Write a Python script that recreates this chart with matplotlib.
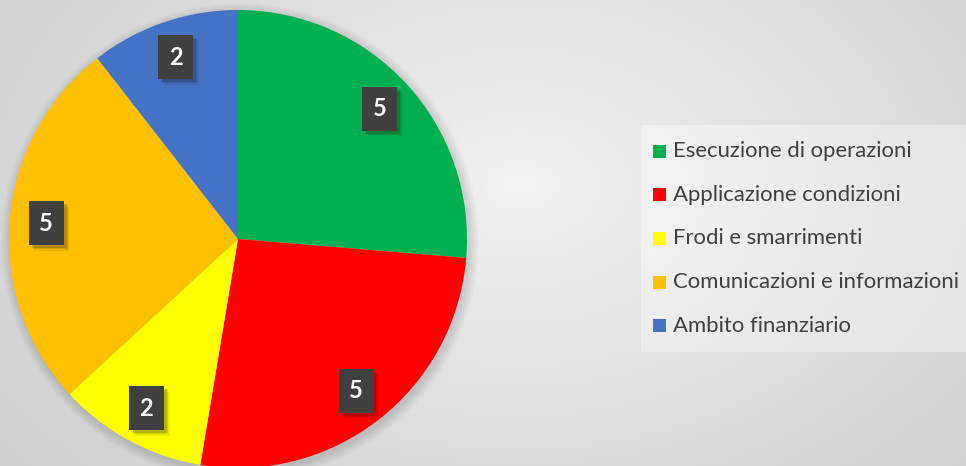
import numpy as np
import matplotlib.pyplot as plt
from matplotlib.patches import Rectangle, Circle
import matplotlib.patheffects as pe

categorie = ['Esecuzione di operazioni', 'Applicazione condizioni', 'Frodi e smarrimenti',
             'Comunicazioni e informazioni', 'Ambito finanziario']
valori = [5, 5, 2, 5, 2]
colori = ['#00b050', '#ff0000', '#ffff00', '#ffc000', '#4472c4']

W, H = 966, 466
fig = plt.figure(figsize=(W / 100, H / 100), dpi=100)
ax = fig.add_axes([0, 0, 1, 1])

# sfondo sfumato radiale
yy, xx = np.mgrid[0:H, 0:W]
d = np.sqrt(((xx - 520) / 620.0) ** 2 + ((yy - 280) / 420.0) ** 2)
g = np.clip(0.945 - 0.13 * d, 0.80, 0.95)
ax.imshow(np.dstack([g, g, g]), extent=[0, W, 0, H], origin='lower', zorder=0)

cx, cy, r = 238, H - 239, 229

# ombra della torta
for i in range(10):
    ax.add_patch(Circle((cx + 2, cy - 3), r + 10 - i, color='black', alpha=0.012, lw=0, zorder=1))

wedges, _ = ax.pie(valori, colors=colori, startangle=90, counterclock=False,
                   center=(cx, cy), radius=r, frame=True, wedgeprops=dict(linewidth=0, zorder=2))
ax.set_xlim(0, W)
ax.set_ylim(0, H)
ax.set_aspect('equal')
ax.axis('off')

for w, v in zip(wedges, valori):
    ang = np.deg2rad((w.theta1 + w.theta2) / 2)
    tx = cx + 0.84 * r * np.cos(ang)
    ty = cy + 0.84 * r * np.sin(ang)
    t = ax.text(tx, ty, str(v), color='white', fontsize=17, fontweight='bold', family='Lato',
                ha='center', va='center', zorder=5,
                bbox=dict(boxstyle='square,pad=0.45', fc='#404040', ec='none'))
    t.get_bbox_patch().set_path_effects([
        pe.SimplePatchShadow(offset=(4, -4), alpha=0.08),
        pe.SimplePatchShadow(offset=(3, -3), alpha=0.12),
        pe.SimplePatchShadow(offset=(2, -2), alpha=0.15),
        pe.Normal()])

# legenda
ax.add_patch(Rectangle((641, H - 352), 330, 227, fc='white', alpha=0.35, lw=0, zorder=3))
y0 = H - 151
for i, (c, lab) in enumerate(zip(colori, categorie)):
    y = y0 - i * 43.7
    ax.add_patch(Rectangle((653, y - 6.5), 13, 13, fc=c, lw=0, zorder=4))
    ax.text(673, y, lab, color='#404040', fontsize=15.9, family='Lato',
            ha='left', va='center', zorder=4)

fig.savefig('out.png', dpi=100)
